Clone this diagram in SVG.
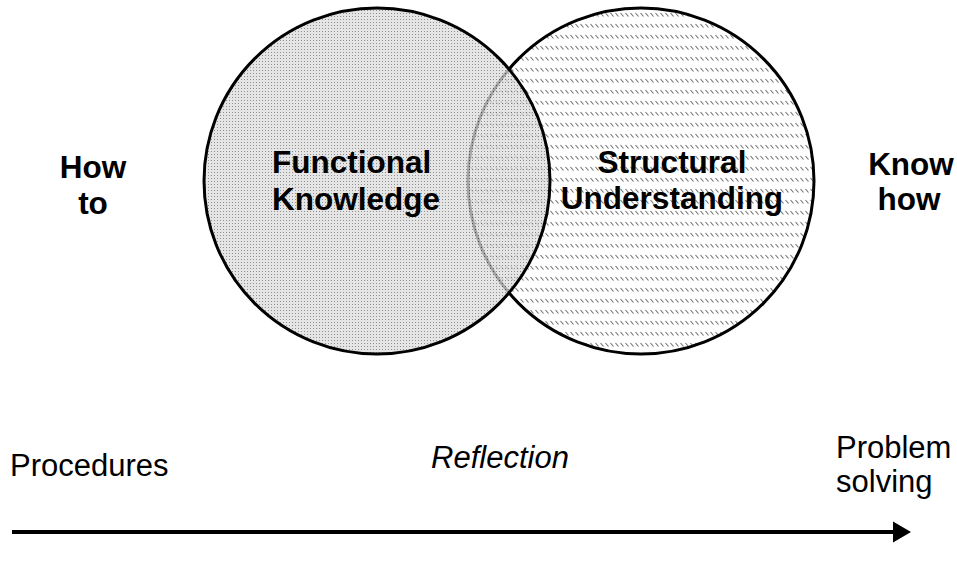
<svg xmlns="http://www.w3.org/2000/svg" width="957" height="566" viewBox="0 0 957 566">
<style>
.b{font-family:"Liberation Sans",Arial,sans-serif;font-weight:bold;font-size:31.5px;fill:#000}
.m{text-anchor:middle}
.n{font-family:"Liberation Sans",Arial,sans-serif;font-size:31px;fill:#000}
.c{stroke:#000;stroke-width:3}
</style>
<defs>
<pattern id="dots" width="3" height="3" patternUnits="userSpaceOnUse">
<rect width="3" height="3" fill="#dcdcdc"/>
<rect x="1" y="1" width="1" height="1" fill="#6a6a6a"/>
</pattern>
<pattern id="hatch" width="5" height="11" patternUnits="userSpaceOnUse">
<rect width="5" height="11" fill="#fff"/>
<path d="M0.5 2 L3.5 5.5" stroke="#707070" stroke-width="1.1"/>
</pattern>
<marker id="ah" markerWidth="6" markerHeight="6" refX="0" refY="3" orient="auto" markerUnits="strokeWidth">
<path d="M0 0.4 L4.5 3 L0 5.6 Z" fill="#000"/>
</marker>
</defs>
<rect width="957" height="566" fill="#fff"/>
<g id="structural">
<circle class="c" cx="641" cy="181" r="173" fill="url(#hatch)"/>
</g>
<g id="functional">
<circle cx="377" cy="181" r="173" fill="url(#dots)" fill-opacity="0.75"/>
<circle class="c" cx="377" cy="181" r="173" fill="none"/>
</g>
<g id="labels">
<text class="b m" x="93" y="178" font-size="31">How</text>
<text class="b m" x="93" y="214" font-size="31">to</text>
<text class="b" x="272" y="173">Functional</text>
<text class="b" x="272" y="210">Knowledge</text>
<text class="b m" x="672" y="173">Structural</text>
<text class="b m" x="672" y="209">Understanding</text>
<text class="b m" x="911" y="175" font-size="30.5">Know</text>
<text class="b m" x="909" y="210" font-size="30.5">how</text>
<text class="n" x="10" y="476">Procedures</text>
<text class="n m" x="500" y="468" font-style="italic" font-size="31.5">Reflection</text>
<text class="n" x="836" y="458">Problem</text>
<text class="n" x="836" y="492">solving</text>
</g>
<g id="connectors">
<line x1="12" y1="532" x2="893" y2="532" stroke="#000" stroke-width="4" marker-end="url(#ah)"/>
</g>
</svg>
